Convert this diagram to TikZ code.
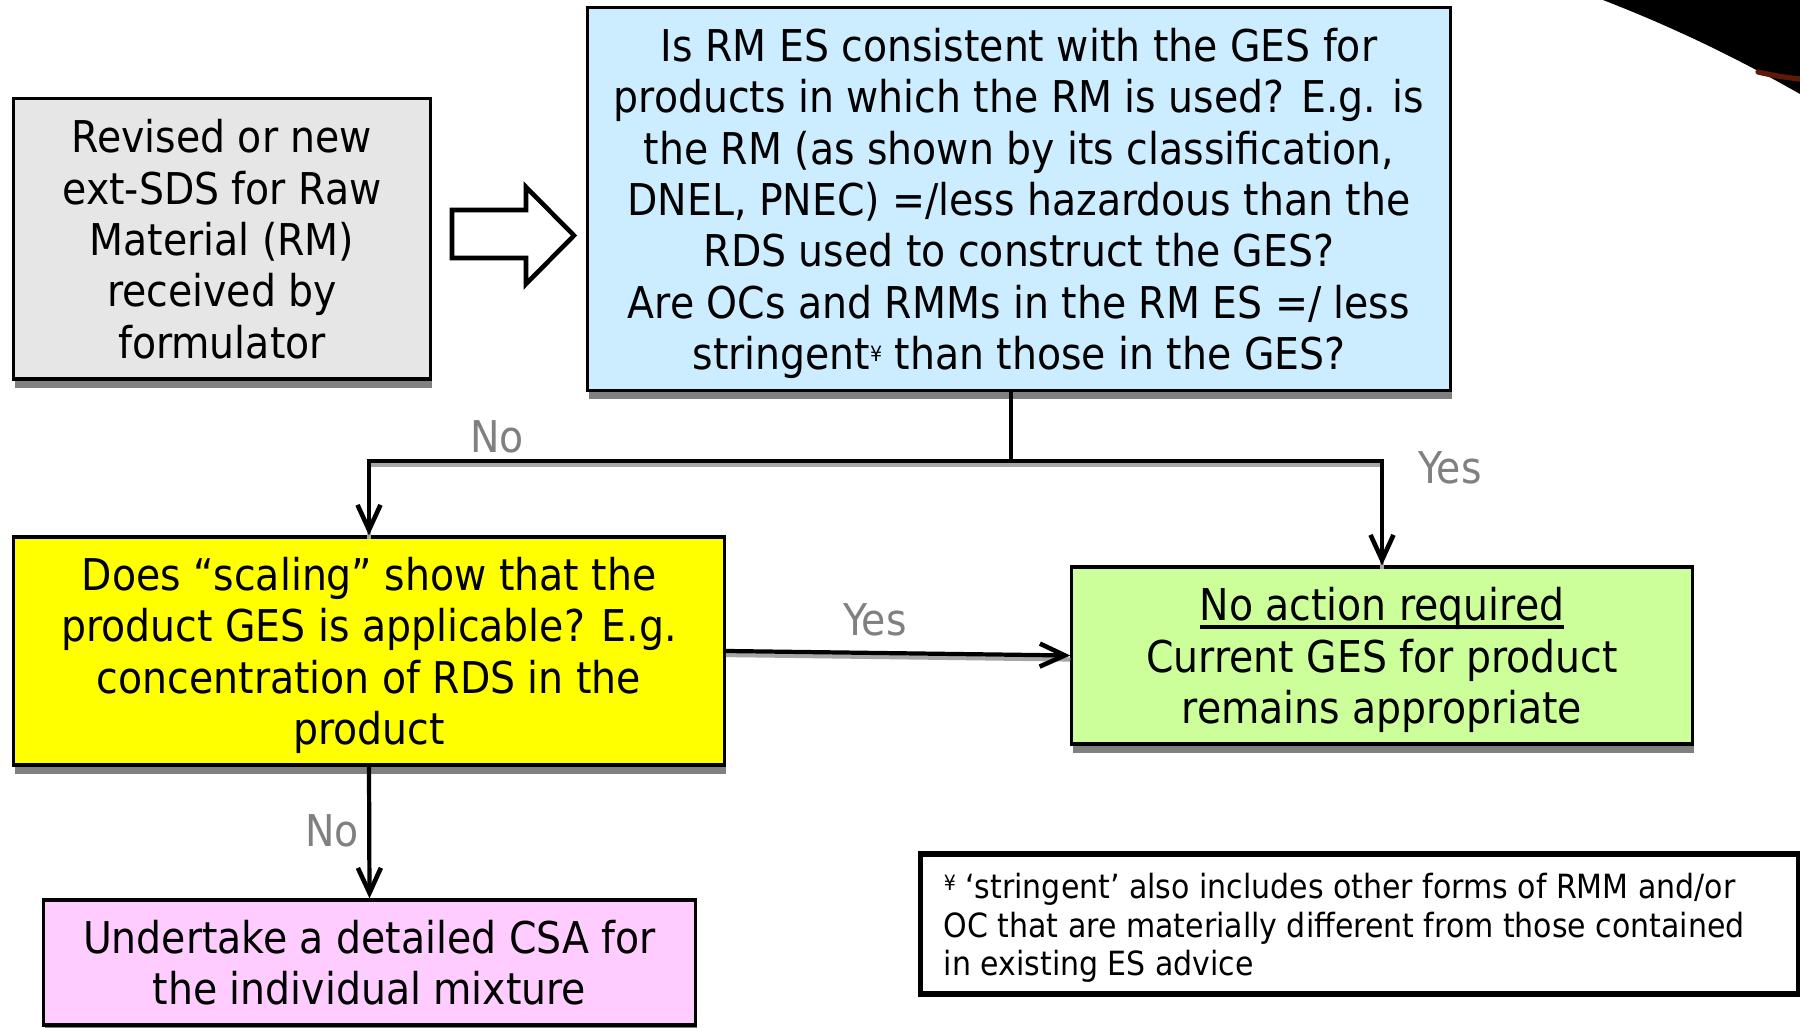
\documentclass[tikz,border=0pt]{standalone}
\usepackage{fontspec}
\setmainfont{DejaVu Sans Condensed}
\usetikzlibrary{arrows.meta,shadows,calc}
\definecolor{boxgray}{HTML}{E6E6E6}
\definecolor{boxblue}{HTML}{CCECFF}
\definecolor{boxyellow}{HTML}{FFFF00}
\definecolor{boxgreen}{HTML}{CCFF99}
\definecolor{boxpink}{HTML}{FFCCFF}
\definecolor{labgray}{HTML}{808080}
\definecolor{shadgray}{HTML}{808080}
\definecolor{swooshred}{HTML}{5E1A08}
\newcommand{\yensup}{{\fontsize{6}{6}\selectfont\raisebox{0.7ex}{¥}}}
\newcommand{\ulbox}[1]{\setbox0\hbox{#1}\rlap{\rule[-2.2pt]{\wd0}{0.9pt}}\box0}
\begin{document}
\begin{tikzpicture}[x=0.01cm,y=-0.01cm,
  box/.style={draw=black, line width=0.9pt, align=center, inner sep=0pt, text depth=0pt,
    font=\fontsize{12.45}{14.6}\selectfont,
    drop shadow={shadow xshift=0.15mm, shadow yshift=-0.9mm, fill=shadgray, opacity=1}},
  conn/.style={line width=1.2pt},
  arr/.style={conn, -{Straight Barb[length=2.5mm,width=2.3mm,line width=1.3pt]}},
  lshadow/.style={line width=1.2pt, draw=gray!70, transform canvas={yshift=-0.4mm}},
  lab/.style={text=labgray, font=\fontsize{12.45}{14.6}\selectfont, inner sep=0pt},
  notebox/.style={draw=black, line width=1.5pt, inner xsep=0.23cm, inner ysep=0pt,
    minimum height=1.40cm, font=\fontsize{9.48}{10.95}\selectfont}
]
\useasboundingbox (0,0) rectangle (1800,1028);
\fill[white] (0,0) rectangle (1800,1028);

% swoosh top right
\fill[black] (1603,0) .. controls (1680,30) and (1740,60) .. (1800,94) -- (1800,0) -- cycle;
\draw[swooshred, line width=1.5pt, line cap=round] (1758,72) .. controls (1775,76) and (1790,78) .. (1800,79);

% boxes
\node[box, fill=boxgray, minimum width=4.16cm, minimum height=2.80cm] (src) at (222,239)
  {Revised or new\\ext-SDS for Raw\\Material (RM)\\received by\\formulator};
\node[box, fill=boxblue, minimum width=8.62cm, minimum height=3.82cm] (q1) at (1019,199)
  {Is RM ES consistent with the GES for\\
   products in which the RM is used? E.g. is\\
   the RM (as shown by its classification,\\
   DNEL, PNEC) =/less hazardous than the\\
   RDS used to construct the GES?\\
   Are OCs and RMMs in the RM ES =/ less\\
   stringent\yensup{} than those in the GES?};
\node[box, fill=boxyellow, minimum width=7.10cm, minimum height=2.28cm] (q2) at (369,651)
  {Does “scaling” show that the\\product GES is applicable? E.g.\\concentration of RDS in the\\product};
\node[box, fill=boxgreen, minimum width=6.20cm, minimum height=1.77cm] (ok) at (1382,655.5)
  {\ulbox{No action required}\\Current GES for product\\remains appropriate};
\node[box, fill=boxpink, minimum width=6.51cm, minimum height=1.25cm] (csa) at (369.5,962.5)
  {Undertake a detailed CSA for\\the individual mixture};
\node[notebox] (note) at (1359.5,924)
  {\raisebox{-0.4mm}[\height][\depth]{\parbox{8.31cm}{\raggedright
   \yensup{} ‘stringent’ also includes other forms of RMM and/or\\OC that are materially different from those contained\\in existing ES advice}}};

% block arrow
\draw[line width=1.3pt, fill=white, line join=miter]
  (452,210) -- (526,210) -- (526,187) -- (574,235.5) -- (526,284) -- (526,258) -- (452,258) -- cycle;

% connectors
\coordinate (j) at (1011,461);
\draw[lshadow] (j) -| (q2.north);
\draw[lshadow] (j) -| (ok.north);
\draw[lshadow] (q2.east) -- (ok.west);
\draw[conn] (j |- q1.south) -- (j);
\draw[arr] (j) -| (q2.north);
\draw[arr] (j) -| (ok.north);
\draw[arr] (q2.east) -- (ok.west);
\draw[arr] (q2.south) -- (csa.north);

% labels
\node[lab] (lno1) at (497,437) {No};
\node[lab] (lyes1) at (1450,468) {Yes};
\node[lab] (lyes2) at (875,620) {Yes};
\node[lab] (lno2) at (332,831) {No};
\end{tikzpicture}
\end{document}
